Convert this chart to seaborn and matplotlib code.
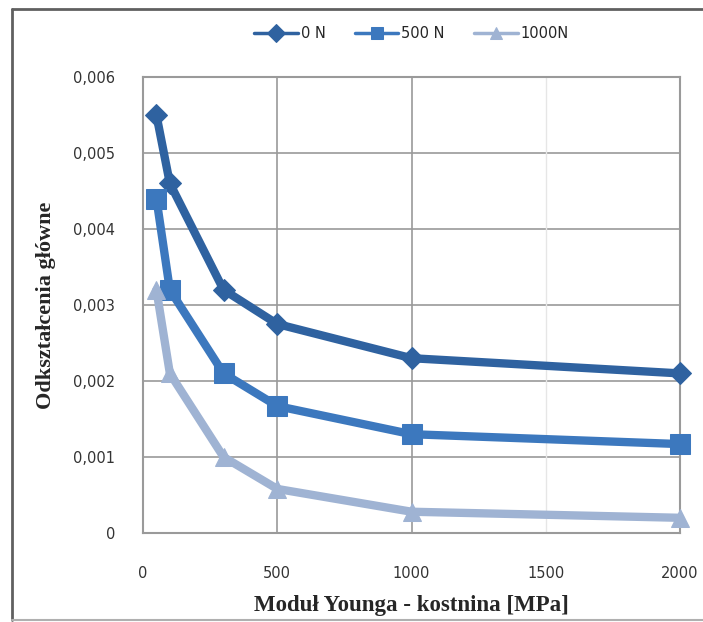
import matplotlib
matplotlib.use("Agg")
import matplotlib.pyplot as plt
import seaborn as sns
import pandas as pd
from matplotlib.lines import Line2D

modulus = [50, 100, 300, 500, 1000, 2000]
strain_0N = [0.0055, 0.0046, 0.0032, 0.00275, 0.0023, 0.0021]
strain_500N = [0.0044, 0.0032, 0.0021, 0.00167, 0.0013, 0.00117]
strain_1000N = [0.0032, 0.0021, 0.0010, 0.00058, 0.00028, 0.0002]
series_names = ["0 N", "500 N", "1000N"]
y_ticks = [0, 0.001, 0.002, 0.003, 0.004, 0.005, 0.006]
y_tick_labels = ["0", "0,001", "0,002", "0,003", "0,004", "0,005", "0,006"]
x_ticks = [0, 500, 1000, 1500, 2000]

df = pd.DataFrame({
    "E": modulus * 3,
    "strain": strain_0N + strain_500N + strain_1000N,
    "series": [series_names[0]] * 6 + [series_names[1]] * 6 + [series_names[2]] * 6,
})

sns.set_theme(style="white")
plt.rcParams['font.family'] = ['DejaVu Sans']

fig = plt.figure(figsize=(7.03, 6.22), dpi=100)
ax = fig.add_axes([143/703, 1-533/622, (680-143)/703, (533-77)/622])

colors = {"0 N": "#2f62a0", "500 N": "#3c78be", "1000N": "#9fb3d3"}
markers = {"0 N": "D", "500 N": "s", "1000N": "^"}
msizes = {"0 N": 11, "500 N": 15, "1000N": 13}

for name in series_names:
    sub = df[df["series"] == name]
    sns.lineplot(data=sub, x="E", y="strain", ax=ax, color=colors[name],
                 lw=6, marker=markers[name], markersize=msizes[name],
                 markeredgecolor=colors[name], label=name, zorder=3, clip_on=False)

ax.set_xlim(0, 2000)
ax.set_ylim(0, 0.006)
ax.set_xticks(x_ticks)
ax.set_xticklabels([str(t) for t in x_ticks], fontsize=10.5, color="#333333")
ax.set_yticks(y_ticks)
ax.set_yticklabels(y_tick_labels, fontsize=10.5, color="#333333")
ax.tick_params(axis="both", direction="out", length=6, width=1, color="#888888", pad=14)
ax.tick_params(axis="x", pad=18)

for y in y_ticks[1:]:
    ax.axhline(y, color="#9a9a9a", lw=1.2, zorder=1)
for x in [500, 1000, 2000]:
    ax.axvline(x, color="#9a9a9a", lw=1.2, zorder=1)
ax.axvline(1500, color="#e6e6e6", lw=1, zorder=1)

for s in ax.spines.values():
    s.set_color("#9a9a9a")
    s.set_linewidth(1.5)

ax.set_xlabel("Moduł Younga - kostnina [MPa]", fontsize=16.5, fontweight="bold",
              family="Liberation Serif", labelpad=10)
ax.set_ylabel("Odkształcenia główne", fontsize=16, fontweight="bold",
              family="Liberation Serif", labelpad=12)

leg = ax.legend(loc="upper center", bbox_to_anchor=(0.5, 1.14), ncol=3, frameon=False,
                fontsize=10.5, handlelength=3, columnspacing=2.0, handletextpad=0.2)
for h in leg.legend_handles:
    h.set_linewidth(2.5)
    h.set_markersize(9)

# outer chart frame
fig.add_artist(Line2D([12/703, 12/703], [1-620/622, 1-9/622], transform=fig.transFigure,
                      color="#606060", lw=2))
fig.add_artist(Line2D([12/703, 1.0], [1-9/622, 1-9/622], transform=fig.transFigure,
                      color="#606060", lw=2))
fig.add_artist(Line2D([12/703, 1.0], [1-620/622, 1-620/622], transform=fig.transFigure,
                      color="#b0b0b0", lw=1.5))

fig.savefig("out.png", dpi=100)
